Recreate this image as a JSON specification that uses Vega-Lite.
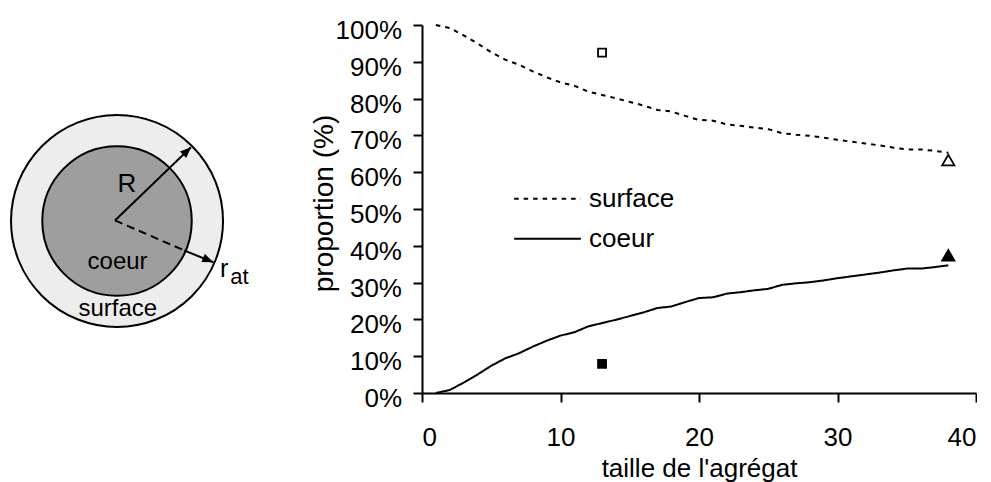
{
  "$schema": "https://vega.github.io/schema/vega-lite/v6.json",
  "padding": {"left": 0, "top": 17, "right": 0, "bottom": 0},
  "autosize": {"type": "pad"},
  "spacing": 162,
  "bounds": "flush",
  "config": {
    "view": {"stroke": null},
    "font": "Liberation Sans",
    "text": {"font": "Liberation Sans", "color": "black"},
    "axis": {
      "grid": false,
      "domainColor": "black",
      "domainWidth": 2,
      "tickColor": "black",
      "tickWidth": 2,
      "tickSize": 9,
      "labelColor": "black",
      "labelFont": "Liberation Sans",
      "labelFontSize": 26,
      "titleColor": "black",
      "titleFont": "Liberation Sans",
      "titleFontWeight": "normal"
    }
  },
  "resolve": {
    "scale": {"x": "independent", "y": "independent", "strokeDash": "independent"},
    "legend": {"strokeDash": "independent"}
  },
  "datasets": {
    "courbes": [
      {"taille": 1, "serie": "surface", "proportion": 100},
      {"taille": 2, "serie": "surface", "proportion": 99.2},
      {"taille": 3, "serie": "surface", "proportion": 97.2},
      {"taille": 4, "serie": "surface", "proportion": 95.0},
      {"taille": 5, "serie": "surface", "proportion": 92.6},
      {"taille": 6, "serie": "surface", "proportion": 90.6},
      {"taille": 7, "serie": "surface", "proportion": 89.2},
      {"taille": 8, "serie": "surface", "proportion": 87.4},
      {"taille": 9, "serie": "surface", "proportion": 85.8},
      {"taille": 10, "serie": "surface", "proportion": 84.4},
      {"taille": 11, "serie": "surface", "proportion": 83.5},
      {"taille": 12, "serie": "surface", "proportion": 81.9},
      {"taille": 13, "serie": "surface", "proportion": 81.0},
      {"taille": 14, "serie": "surface", "proportion": 80.1},
      {"taille": 15, "serie": "surface", "proportion": 79.1},
      {"taille": 16, "serie": "surface", "proportion": 78.1},
      {"taille": 17, "serie": "surface", "proportion": 76.9},
      {"taille": 18, "serie": "surface", "proportion": 76.5},
      {"taille": 19, "serie": "surface", "proportion": 75.3},
      {"taille": 20, "serie": "surface", "proportion": 74.2},
      {"taille": 21, "serie": "surface", "proportion": 74.0},
      {"taille": 22, "serie": "surface", "proportion": 73.0},
      {"taille": 23, "serie": "surface", "proportion": 72.6},
      {"taille": 24, "serie": "surface", "proportion": 72.1},
      {"taille": 25, "serie": "surface", "proportion": 71.7},
      {"taille": 26, "serie": "surface", "proportion": 70.6},
      {"taille": 27, "serie": "surface", "proportion": 70.2},
      {"taille": 28, "serie": "surface", "proportion": 69.9},
      {"taille": 29, "serie": "surface", "proportion": 69.4},
      {"taille": 30, "serie": "surface", "proportion": 68.8},
      {"taille": 31, "serie": "surface", "proportion": 68.3},
      {"taille": 32, "serie": "surface", "proportion": 67.8},
      {"taille": 33, "serie": "surface", "proportion": 67.3},
      {"taille": 34, "serie": "surface", "proportion": 66.7},
      {"taille": 35, "serie": "surface", "proportion": 66.2},
      {"taille": 36, "serie": "surface", "proportion": 66.2},
      {"taille": 37, "serie": "surface", "proportion": 65.8},
      {"taille": 38, "serie": "surface", "proportion": 65.3},
      {"taille": 1, "serie": "coeur", "proportion": 0},
      {"taille": 2, "serie": "coeur", "proportion": 0.8},
      {"taille": 3, "serie": "coeur", "proportion": 2.8},
      {"taille": 4, "serie": "coeur", "proportion": 5.0},
      {"taille": 5, "serie": "coeur", "proportion": 7.4},
      {"taille": 6, "serie": "coeur", "proportion": 9.4},
      {"taille": 7, "serie": "coeur", "proportion": 10.8},
      {"taille": 8, "serie": "coeur", "proportion": 12.6},
      {"taille": 9, "serie": "coeur", "proportion": 14.2},
      {"taille": 10, "serie": "coeur", "proportion": 15.6},
      {"taille": 11, "serie": "coeur", "proportion": 16.5},
      {"taille": 12, "serie": "coeur", "proportion": 18.1},
      {"taille": 13, "serie": "coeur", "proportion": 19.0},
      {"taille": 14, "serie": "coeur", "proportion": 19.9},
      {"taille": 15, "serie": "coeur", "proportion": 20.9},
      {"taille": 16, "serie": "coeur", "proportion": 21.9},
      {"taille": 17, "serie": "coeur", "proportion": 23.1},
      {"taille": 18, "serie": "coeur", "proportion": 23.5},
      {"taille": 19, "serie": "coeur", "proportion": 24.7},
      {"taille": 20, "serie": "coeur", "proportion": 25.8},
      {"taille": 21, "serie": "coeur", "proportion": 26.0},
      {"taille": 22, "serie": "coeur", "proportion": 27.0},
      {"taille": 23, "serie": "coeur", "proportion": 27.4},
      {"taille": 24, "serie": "coeur", "proportion": 27.9},
      {"taille": 25, "serie": "coeur", "proportion": 28.3},
      {"taille": 26, "serie": "coeur", "proportion": 29.4},
      {"taille": 27, "serie": "coeur", "proportion": 29.8},
      {"taille": 28, "serie": "coeur", "proportion": 30.1},
      {"taille": 29, "serie": "coeur", "proportion": 30.6},
      {"taille": 30, "serie": "coeur", "proportion": 31.2},
      {"taille": 31, "serie": "coeur", "proportion": 31.7},
      {"taille": 32, "serie": "coeur", "proportion": 32.2},
      {"taille": 33, "serie": "coeur", "proportion": 32.7},
      {"taille": 34, "serie": "coeur", "proportion": 33.3},
      {"taille": 35, "serie": "coeur", "proportion": 33.8},
      {"taille": 36, "serie": "coeur", "proportion": 33.8},
      {"taille": 37, "serie": "coeur", "proportion": 34.2},
      {"taille": 38, "serie": "coeur", "proportion": 34.7}
    ],
    "marqueurs": [
      {"taille": 13, "proportion": 92.5, "serie": "surface", "modele": "A"},
      {"taille": 13, "proportion": 7.9, "serie": "coeur", "modele": "A"},
      {"taille": 38, "proportion": 63.3, "serie": "surface", "modele": "B"},
      {"taille": 38, "proportion": 37.4, "serie": "coeur", "modele": "B"}
    ]
  },
  "hconcat": [
    {
      "width": 260,
      "height": 368,
      "encoding": {
        "x": {"field": "x", "type": "quantitative", "scale": {"domain": [-1.104, 1.349], "nice": false, "zero": false}, "axis": null},
        "y": {"field": "y", "type": "quantitative", "scale": {"domain": [-1.623, 1.849], "nice": false, "zero": false}, "axis": null}
      },
      "layer": [
        {
          "data": {"values": [{"x": 0, "y": 0, "zone": "surface"}]},
          "mark": {"type": "point", "shape": "circle", "size": 44944, "filled": true, "fill": "#ededed", "stroke": "black", "strokeWidth": 2, "opacity": 1}
        },
        {
          "data": {"values": [{"x": 0, "y": 0, "zone": "coeur"}]},
          "mark": {"type": "point", "shape": "circle", "size": 22350, "filled": true, "fill": "#9e9e9e", "stroke": "black", "strokeWidth": 2, "opacity": 1}
        },
        {
          "data": {"values": [
            {"x": -0.019, "y": 0.005, "x2": 0.698, "y2": 0.696, "trait": "plein"},
            {"x": -0.019, "y": 0.005, "x2": 0.635, "y2": -0.278, "trait": "tirets"},
            {"x": 0.635, "y": -0.278, "x2": 0.908, "y2": -0.389, "trait": "plein"}
          ]},
          "mark": {"type": "rule", "color": "black", "strokeWidth": 2},
          "encoding": {
            "x2": {"field": "x2"},
            "y2": {"field": "y2"},
            "strokeDash": {"field": "trait", "type": "nominal", "scale": {"domain": ["plein", "tirets"], "range": [[1, 0], [8, 5]]}, "legend": null}
          }
        },
        {
          "data": {"values": [{"x": 0.698, "y": 0.696, "fleche": "R"}]},
          "mark": {"type": "point", "shape": "M0,0L-0.45,1.1L0.45,1.1Z", "size": 400, "angle": 46, "filled": true, "color": "black", "opacity": 1}
        },
        {
          "data": {"values": [{"x": 0.908, "y": -0.389, "fleche": "r_at"}]},
          "mark": {"type": "point", "shape": "M0,0L-0.45,1.1L0.45,1.1Z", "size": 400, "angle": 113, "filled": true, "color": "black", "opacity": 1}
        },
        {
          "data": {"values": [{"x": 0.092, "y": 0.272, "texte": "R"}]},
          "mark": {"type": "text", "fontSize": 26, "align": "center", "baseline": "alphabetic", "color": "black"},
          "encoding": {"text": {"field": "texte"}}
        },
        {
          "data": {"values": [
            {"x": 0.005, "y": -0.451, "texte": "coeur"},
            {"x": 0.007, "y": -0.901, "texte": "surface"}
          ]},
          "mark": {"type": "text", "fontSize": 24, "align": "center", "baseline": "alphabetic", "color": "black"},
          "encoding": {"text": {"field": "texte"}}
        },
        {
          "data": {"values": [{"x": 0.972, "y": -0.53, "texte": "r"}]},
          "mark": {"type": "text", "fontSize": 25, "align": "left", "baseline": "alphabetic", "color": "black"},
          "encoding": {"text": {"field": "texte"}}
        },
        {
          "data": {"values": [{"x": 1.068, "y": -0.592, "texte": "at"}]},
          "mark": {"type": "text", "fontSize": 22, "align": "left", "baseline": "alphabetic", "color": "black"},
          "encoding": {"text": {"field": "texte"}}
        }
      ]
    },
    {
      "width": 554,
      "height": 368,
      "encoding": {
        "x": {
          "field": "taille", "type": "quantitative",
          "scale": {"domain": [0, 40], "nice": false},
          "axis": {"values": [0, 10, 20, 30, 40], "title": "taille de l'agrégat", "titleFontSize": 26, "labelPadding": 22.7, "titlePadding": 5}
        },
        "y": {
          "field": "proportion", "type": "quantitative",
          "scale": {"domain": [0, 100], "nice": false},
          "axis": {"values": [0, 10, 20, 30, 40, 50, 60, 70, 80, 90, 100], "labelExpr": "datum.value + '%'", "title": "proportion (%)", "titleFontSize": 28, "labelPadding": 11.5, "labelOffset": 5.5, "titlePadding": -3, "titleY": 178}
        }
      },
      "layer": [
        {
          "data": {"name": "courbes"},
          "mark": {"type": "line", "color": "black", "strokeWidth": 2},
          "encoding": {
            "strokeDash": {
              "field": "serie", "type": "nominal",
              "scale": {"domain": ["surface", "coeur"], "range": [[4.5, 5], [1, 0]]},
              "legend": {
                "title": null, "orient": "none", "legendX": 91, "legendY": 154,
                "symbolType": "stroke", "symbolSize": 4449, "symbolStrokeWidth": 2, "symbolStrokeColor": "black",
                "labelFontSize": 26, "labelFont": "Liberation Sans", "labelColor": "black", "labelOffset": 7,
                "clipHeight": 39.5, "rowPadding": 0, "padding": 0
              }
            }
          }
        },
        {
          "data": {"name": "marqueurs"},
          "mark": {"type": "point", "filled": true, "stroke": "black", "strokeWidth": 1.8, "opacity": 1},
          "encoding": {
            "shape": {"field": "modele", "type": "nominal", "scale": {"domain": ["A", "B"], "range": ["square", "triangle-up"]}, "legend": null},
            "size": {"field": "modele", "type": "nominal", "scale": {"domain": ["A", "B"], "range": [64, 150]}, "legend": null},
            "fill": {"field": "serie", "type": "nominal", "scale": {"domain": ["surface", "coeur"], "range": ["white", "black"]}, "legend": null}
          }
        }
      ]
    }
  ]
}
